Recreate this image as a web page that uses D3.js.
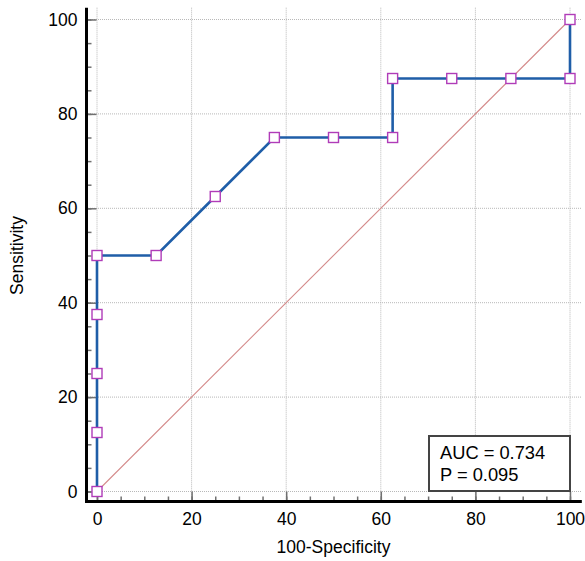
<!DOCTYPE html>
<html><head><meta charset="utf-8">
<script src="https://cdn.jsdelivr.net/npm/d3@7"></script>
<style>body{margin:0;background:#fff}svg{display:block}text{font-family:"Liberation Sans",Arial,sans-serif;fill:#000}</style>
</head><body><svg id="c" width="585" height="561"></svg>
<script>
const fpr = [0, 0, 0, 0, 0, 12.5, 25, 37.5, 50, 62.5, 62.5, 75, 87.5, 100, 100];
const tpr = [0, 12.5, 25, 37.5, 50, 50, 62.5, 75, 75, 75, 87.5, 87.5, 87.5, 87.5, 100];
const majorTicks = [0, 20, 40, 60, 80, 100];
const minorTicks = d3.range(0, 101, 5);
const xLabel = "100-Specificity";
const yLabel = "Sensitivity";
const statLines = ["AUC = 0.734", "P = 0.095"];

const svg = d3.select("#c");
const x = d3.scaleLinear().domain([0, 100]).range([97, 570]);
const y = d3.scaleLinear().domain([0, 100]).range([491.5, 19.5]);

// gridlines
const g = svg.append("g");
g.selectAll("line.vg").data(majorTicks).join("line")
  .attr("x1", d => x(d)).attr("x2", d => x(d)).attr("y1", y(102.5)).attr("y2", 500)
  .attr("stroke", "#b8b8b8").attr("stroke-width", 1).attr("stroke-dasharray", "1,1");
g.selectAll("line.hg").data(majorTicks).join("line")
  .attr("y1", d => y(d)).attr("y2", d => y(d)).attr("x1", 88).attr("x2", x(102.5))
  .attr("stroke", "#b8b8b8").attr("stroke-width", 1).attr("stroke-dasharray", "1,1");

// diagonal
svg.append("line").attr("x1", x(0)).attr("y1", y(0)).attr("x2", x(100)).attr("y2", y(100))
  .attr("stroke", "#d48a8a").attr("stroke-width", 1.1);

// axes
const xMinor = d3.axisBottom(x).tickValues(minorTicks).tickSize(-5).tickFormat("");
const xMajor = d3.axisBottom(x).tickValues(majorTicks).tickSize(-10).tickPadding(11).tickFormat(d3.format("d"));
const yMinor = d3.axisLeft(y).tickValues(minorTicks).tickSize(-5).tickFormat("");
const yMajor = d3.axisLeft(y).tickValues(majorTicks).tickSize(-10).tickPadding(9).tickFormat(d3.format("d"));

function styleAxis(sel) {
  sel.select(".domain").remove();
  sel.selectAll(".tick line").attr("stroke", "#707070").attr("stroke-width", 1.5);
  sel.selectAll(".tick text").style("font-size", "17.5px").attr("fill", "#000");
}
svg.append("g").attr("transform", "translate(0,501.5)").call(xMinor).call(styleAxis);
svg.append("g").attr("transform", "translate(0,501.5)").call(xMajor).call(styleAxis);
svg.append("g").attr("transform", "translate(86.5,0)").call(yMinor).call(styleAxis);
svg.append("g").attr("transform", "translate(86.5,0)").call(yMajor).call(styleAxis);

svg.append("line").attr("x1", 86.5).attr("x2", 86.5).attr("y1", y(102.5)).attr("y2", 503)
  .attr("stroke", "#000").attr("stroke-width", 3);
svg.append("line").attr("x1", 85).attr("x2", x(102.5)).attr("y1", 501.5).attr("y2", 501.5)
  .attr("stroke", "#000").attr("stroke-width", 3);

// ROC line
const pts = fpr.map((d, i) => [d, tpr[i]]);
svg.append("path").datum(pts)
  .attr("d", d3.line().x(d => x(d[0])).y(d => y(d[1])))
  .attr("fill", "none").attr("stroke", "#1f5ea8").attr("stroke-width", 2.6);

svg.selectAll("rect.m").data(pts).join("rect")
  .attr("x", d => x(d[0]) - 5).attr("y", d => y(d[1]) - 5)
  .attr("width", 10).attr("height", 10)
  .attr("fill", "#fff").attr("stroke", "#b03cb8").attr("stroke-width", 1.4);

// labels
svg.append("text").attr("x", 333.5).attr("y", 553).attr("text-anchor", "middle")
  .style("font-size", "17.5px").text(xLabel);
svg.append("text").attr("transform", "translate(23,255.5) rotate(-90)").attr("text-anchor", "middle")
  .style("font-size", "17.5px").text(yLabel);

// stat box
svg.append("rect").attr("x", 429).attr("y", 436).attr("width", 141).attr("height", 55)
  .attr("fill", "#fff").attr("stroke", "#444").attr("stroke-width", 2);
svg.selectAll("text.st").data(statLines).join("text")
  .attr("x", 440).attr("y", (d, i) => 458.5 + i * 22.5)
  .style("font-size", "18.3px").text(d => d);
</script></body></html>
